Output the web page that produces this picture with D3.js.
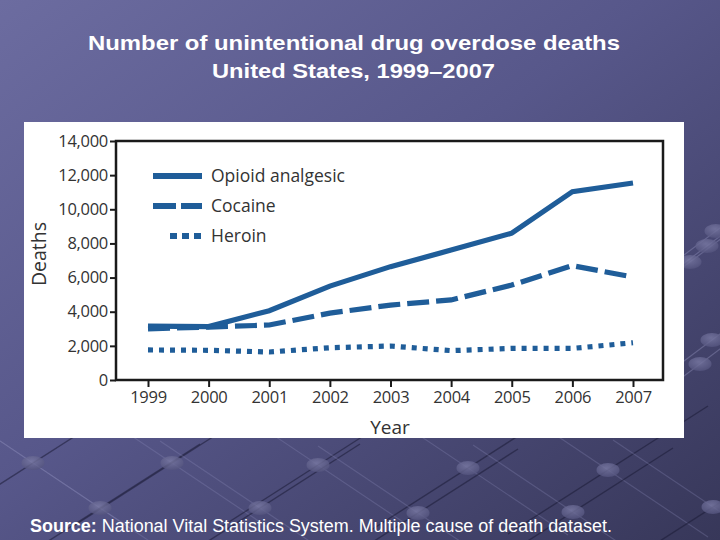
<!DOCTYPE html>
<html><head><meta charset="utf-8">
<script src="https://cdn.jsdelivr.net/npm/d3@7"></script>
<style>html,body{margin:0;padding:0;overflow:hidden;}</style>
</head><body>
<svg id="c" width="720" height="540"></svg>
<script>
const years = [1999,2000,2001,2002,2003,2004,2005,2006,2007];
const opioid = [3160,3130,4060,5500,6640,7610,8600,11030,11540];
const cocaine = [3000,3100,3220,3920,4390,4690,5560,6700,6030];
const heroin = [1760,1740,1640,1890,1990,1720,1850,1850,2180];
const yTicks = [0,2000,4000,6000,8000,10000,12000,14000];
const seriesNames = ["Opioid analgesic","Cocaine","Heroin"];

(function(){
const svg = d3.select("#c");
const defs = svg.append("defs");
const g1 = defs.append("linearGradient").attr("id","bg").attr("x1","0").attr("y1","0").attr("x2","1").attr("y2","1");
g1.append("stop").attr("offset","0").attr("stop-color","#6c6ca0");
g1.append("stop").attr("offset","0.45").attr("stop-color","#57578a");
g1.append("stop").attr("offset","1").attr("stop-color","#373759");
svg.append("rect").attr("width",720).attr("height",540).attr("fill","url(#bg)");
const bg2 = defs.append("radialGradient").attr("id","bub").attr("cx","0.45").attr("cy","0.35").attr("r","0.7");
bg2.append("stop").attr("offset","0").attr("stop-color","#7a7aa4");
bg2.append("stop").attr("offset","1").attr("stop-color","#52527c");

// lattice decoration (background texture)
const deco = svg.append("g");
const topRow = [[33,463],[172,463],[318,465],[468,468],[608,470]];
const botRow = [[100,508],[260,508],[418,513],[573,512],[713,507]];
[...topRow,...botRow].forEach(p=>{
  deco.append("line").attr("x1",p[0]-100).attr("y1",p[1]-67).attr("x2",p[0]+100).attr("y2",p[1]+67)
    .attr("stroke","#9090c0").attr("stroke-opacity",0.28).attr("stroke-width",1.2);
  deco.append("line").attr("x1",p[0]+100).attr("y1",p[1]-64).attr("x2",p[0]-100).attr("y2",p[1]+64)
    .attr("stroke","#1c1c36").attr("stroke-opacity",0.55).attr("stroke-width",1.4);
});
const side = [[690,262],[707,246],[716,231],[712,340],[700,364]];
side.forEach(p=>{
  deco.append("line").attr("x1",p[0]-40).attr("y1",p[1]+30).attr("x2",p[0]+40).attr("y2",p[1]-30)
    .attr("stroke","#a0a0cc").attr("stroke-opacity",0.35).attr("stroke-width",1.2);
});
svg.append("g").selectAll("ellipse").data([...topRow,...botRow,...side]).join("ellipse")
  .attr("cx",d=>d[0]).attr("cy",d=>d[1]).attr("rx",11.5).attr("ry",7).attr("fill","url(#bub)").attr("fill-opacity",0.8);

// title
const title = svg.append("g").attr("fill","#ffffff").attr("font-family","Liberation Sans, Arial, sans-serif").attr("font-size",20.5).attr("font-weight","bold").attr("text-anchor","start");
title.append("text").attr("x",88).attr("y",50).attr("textLength",532).attr("lengthAdjust","spacingAndGlyphs").text("Number of unintentional drug overdose deaths");
title.append("text").attr("x",212).attr("y",78).attr("textLength",283).attr("lengthAdjust","spacingAndGlyphs").text("United States, 1999–2007");

// white panel
svg.append("rect").attr("x",24).attr("y",122).attr("width",660).attr("height",316).attr("fill","#ffffff");

const L=116, R=663, T=141, B=380;
const x = d3.scalePoint().domain(years).range([148,633]);
const y = d3.scaleLinear().domain([0,14000]).range([B,T]);
const font = "Myriad Pro, Open Sans, Noto Sans, sans-serif";

// frame
svg.append("rect").attr("x",L).attr("y",T).attr("width",R-L).attr("height",B-T).attr("fill","none").attr("stroke","#1a1a1a").attr("stroke-width",2.5);

const ya = svg.append("g").attr("transform",`translate(${L},0)`)
  .call(d3.axisLeft(y).tickValues(yTicks).tickSize(6).tickPadding(2).tickFormat(d3.format(",")));
ya.select(".domain").remove();
ya.selectAll("line").attr("stroke","#1a1a1a").attr("stroke-width",2);
ya.selectAll("text").attr("font-family",font).attr("font-size",16.5).attr("fill","#333").attr("letter-spacing","-0.3px");

const xa = svg.append("g").attr("transform",`translate(0,${B})`)
  .call(d3.axisBottom(x).tickSize(7).tickPadding(4).tickFormat(d3.format("d")));
xa.select(".domain").remove();
xa.selectAll("line").attr("stroke","#1a1a1a").attr("stroke-width",2);
xa.selectAll("text").attr("font-family",font).attr("font-size",16.5).attr("fill","#333").attr("letter-spacing","-0.3px");

svg.append("text").attr("transform","translate(46,254) rotate(-90)").attr("text-anchor","middle")
  .attr("font-family",font).attr("font-size",19.5).attr("fill","#333").text("Deaths");
svg.append("text").attr("x",390).attr("y",434).attr("text-anchor","middle")
  .attr("font-family",font).attr("font-size",19).attr("fill","#333").text("Year");

const color = "#1f5d99";
const dashes = [null,"22,7","5,6"];
const data = [opioid,cocaine,heroin];
const line = d3.line().x((d,i)=>x(years[i])).y(d=>y(d));
data.forEach((s,k)=>{
  svg.append("path").datum(s).attr("d",line).attr("fill","none").attr("stroke",color)
    .attr("stroke-width",5.2).attr("stroke-dasharray",dashes[k]);
});

// legend
const leg = svg.append("g");
const legY = [176,206,236];
const legDash = [null,"23,5","7,5"];
seriesNames.forEach((n,k)=>{
  leg.append("line").attr("x1",k===2?170:153).attr("x2",202).attr("y1",legY[k]).attr("y2",legY[k])
    .attr("stroke",color).attr("stroke-width",6).attr("stroke-dasharray",legDash[k]);
  leg.append("text").attr("x",211).attr("y",legY[k]+6).attr("font-family",font).attr("font-size",17.5)
    .attr("fill","#333").text(n);
});

// source
const src = svg.append("text").attr("x",30).attr("y",532).attr("font-family","Liberation Sans, Arial, sans-serif").attr("font-size",17.5).attr("fill","#fff")
  .attr("textLength",582).attr("lengthAdjust","spacingAndGlyphs");
src.append("tspan").attr("font-weight","bold").text("Source:");
src.append("tspan").text(" National Vital Statistics System. Multiple cause of death dataset.");
})();
</script>
</body></html>
